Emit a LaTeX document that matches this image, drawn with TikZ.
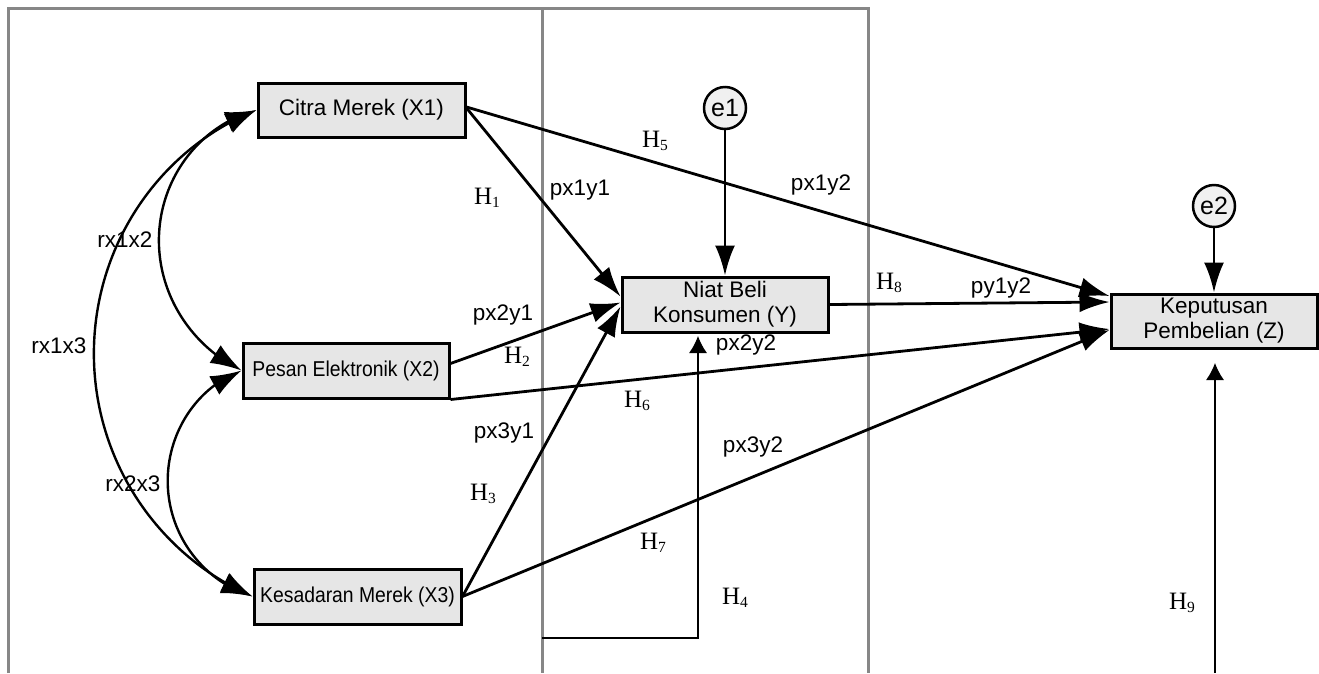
\documentclass[tikz,border=0pt]{standalone}
\usepackage{fontspec}
\usepackage{graphicx}
\setmainfont{Liberation Serif}
\newfontfamily\arial{Liberation Sans}
\usetikzlibrary{arrows.meta,calc,bending}
\definecolor{boxfill}{HTML}{E6E6E6}
\definecolor{framegray}{HTML}{878787}
\newcommand\hyp[1]{{\fontsize{25}{25}\selectfont H\raisebox{-3pt}{\fontsize{15.5}{15.5}\selectfont #1}}}
\begin{document}
\begin{tikzpicture}[x=1pt,y=-1pt,
  varbox/.style={draw=black,line width=3pt,fill=boxfill,inner sep=0pt,align=center,font=\arial\fontsize{22.5}{25}\selectfont},
  errc/.style={circle,draw=black,line width=2.5pt,fill=boxfill!60,minimum size=42pt,inner sep=0pt,font=\arial\fontsize{25}{25}\selectfont},
  mainarrow/.style={line width=2.8pt,-{Latex[length=30pt,width=20pt]}},
  cov/.style={line width=2.4pt,{Latex[length=31pt,width=21pt]}-{Latex[length=31pt,width=21pt]}},
  thinarrow/.style={line width=1.2pt,-{Latex[length=17pt,width=18pt]}},
  frameline/.style={draw=framegray,line width=3pt},
  lbl/.style={font=\arial\fontsize{22.5}{24}\selectfont,inner sep=0pt},
  hlbl/.style={inner sep=0pt}
]
\useasboundingbox (0,0) rectangle (1319,673);
% frame
\draw[frameline] (8,673) -- (8,8) -- (868,8) -- (868,673);
\draw[frameline] (542,8) -- (542,673);

% variables
\node[varbox,minimum width=207pt,minimum height=54pt] (X1) at (361.5,110) {Citra Merek (X1)};
\node[varbox,minimum width=206pt,minimum height=55pt] (X2) at (346,370.5) {\fontsize{21.5}{24}\selectfont\scalebox{0.9}[1]{Pesan Elektronik (X2)}};
\node[varbox,minimum width=207pt,minimum height=55pt] (X3) at (357.5,596.5) {\fontsize{21.5}{24}\selectfont\scalebox{0.9}[1]{Kesadaran Merek (X3)}};
\node[varbox,minimum width=206pt,minimum height=55pt] (Y) at (725,304.5) {Niat Beli\\Konsumen (Y)};
\node[varbox,minimum width=206pt,minimum height=54pt] (Z) at (1214,321) {Keputusan\\Pembelian (Z)};
\node[errc] (e1) at (725,108) {e1};
\node[errc] (e2) at (1214,206) {e2};

% error arrows
\draw[mainarrow] (e1.south) -- (Y.north);
\draw[mainarrow] (e2.south) -- (Z.north);

% paths
\draw[mainarrow] ($(X1.east)+(0,-2)$) -- ($(Y.west)+(0,-8)$);
\draw[mainarrow] ($(X2.east)+(0,-7)$) -- ($(Y.west)+(0,-2)$);
\draw[mainarrow] (X3.east) -- ($(Y.west)+(0,2)$);
\draw[mainarrow] ($(X1.east)+(0,-3)$) -- ($(Z.west)+(0,-25)$);
\draw[mainarrow] (Y.east) -- ($(Z.west)+(0,-19)$);
\draw[mainarrow] (X2.south east) -- ($(Z.west)+(0,8)$);
\draw[mainarrow] (X3.east) -- ($(Z.west)+(0,9)$);

% covariances
\draw[cov] (X1.west) .. controls (201.3,125) and (162.2,175) .. (159.1,233.1)
  .. controls (156,291.2) and (189.5,345.1) .. (X2.west);
\draw[cov] (X1.west) .. controls (159.1,149.2) and (95,244.6) .. (93.9,350.8)
  .. controls (92.8,457) and (155,553.8) .. (X3.west);
\draw[cov] (X2.west) .. controls (195.8,387.6) and (165.8,434.6) .. (167.8,485.7)
  .. controls (169.8,536.8) and (203.4,581.1) .. (X3.west);

% thin arrows
\coordinate (h4start) at (542,638);
\coordinate (h4tip) at (698,336);
\draw[thinarrow] (h4start) -| (h4tip);
\coordinate (h9start) at (1215,673);
\coordinate (h9tip) at (1215,363);
\draw[thinarrow] (h9start) -- (h9tip);

% labels
\node[lbl] (lpx1y1) at (580,190) {px1y1};
\node[lbl] (lrx1x2) at (125,240) {rx1x2};
\node[lbl] (lpx2y1) at (503,315) {px2y1};
\node[lbl] (lrx1x3) at (59,346) {rx1x3};
\node[lbl] (lpx3y1) at (504,433) {px3y1};
\node[lbl] (lrx2x3) at (133,484) {rx2x3};
\node[lbl] (lpx1y2) at (821,185) {px1y2};
\node[lbl] (lpx2y2) at (746,345) {px2y2};
\node[lbl] (lpx3y2) at (753,447) {px3y2};
\node[lbl] (lpy1y2) at (1001,288) {py1y2};

\node[hlbl] (h1) at (487,198) {\hyp{1}};
\node[hlbl] (h2) at (517,357) {\hyp{2}};
\node[hlbl] (h3) at (483,494) {\hyp{3}};
\node[hlbl] (h4) at (735,598) {\hyp{4}};
\node[hlbl] (h5) at (655,141) {\hyp{5}};
\node[hlbl] (h6) at (637,401) {\hyp{6}};
\node[hlbl] (h7) at (653,543) {\hyp{7}};
\node[hlbl] (h8) at (889,283) {\hyp{8}};
\node[hlbl] (h9) at (1182,603) {\hyp{9}};
\end{tikzpicture}
\end{document}
